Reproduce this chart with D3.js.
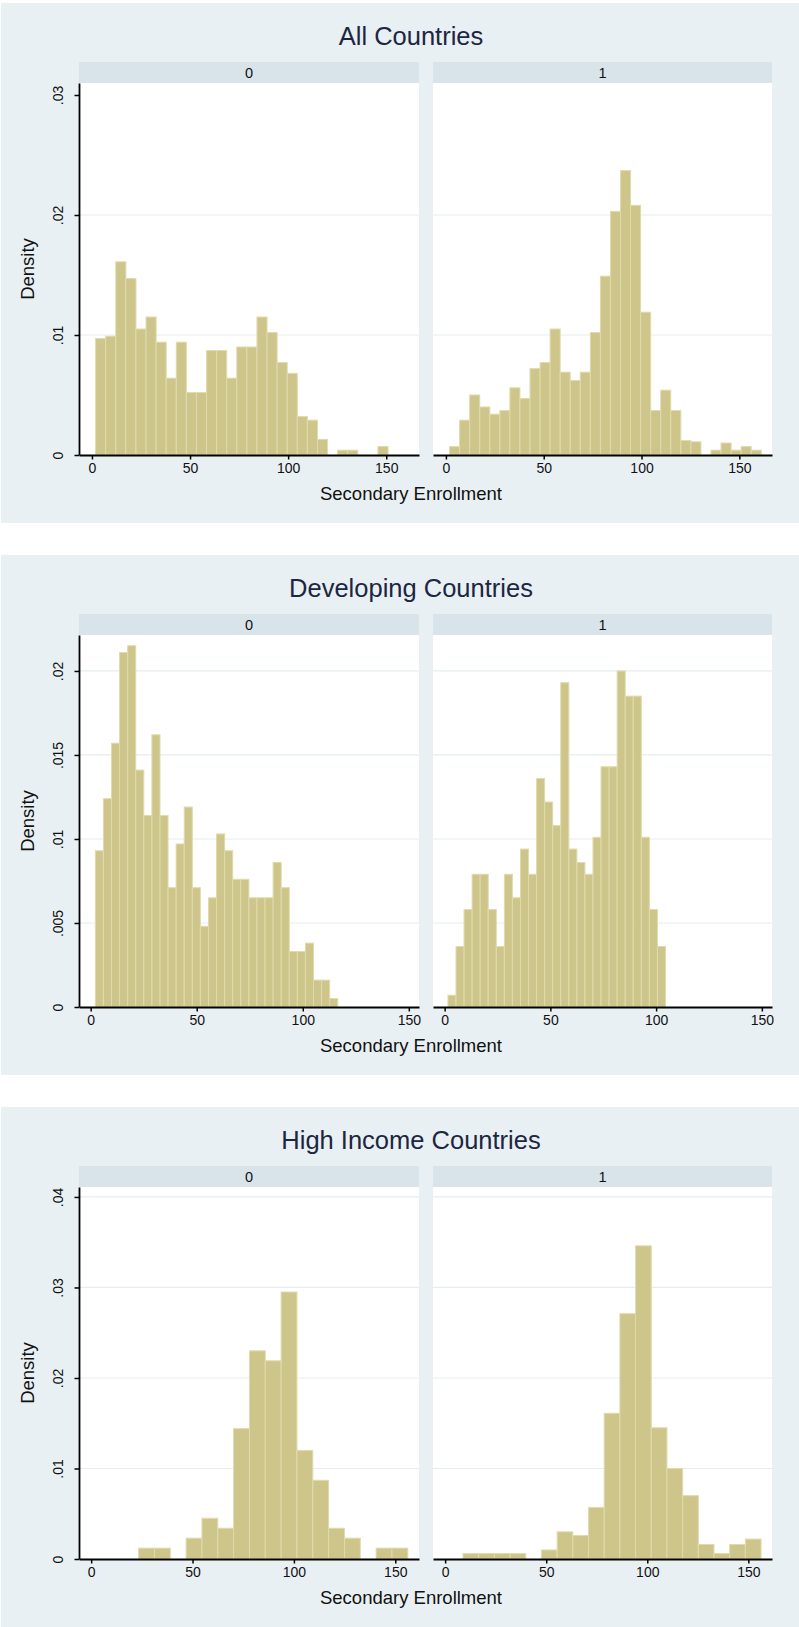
<!DOCTYPE html>
<html>
<head>
<meta charset="utf-8">
<script src="https://cdn.jsdelivr.net/npm/d3@7"></script>
<style>
  body { margin: 0; background: #ffffff; }
  svg { display: block; }
  text { font-family: "Liberation Sans", Arial, sans-serif; }
</style>
</head>
<body>
<svg id="chart" width="799" height="1627"></svg>
<script>
// ---- data -------------------------------------------------------------
const panelTitles = ["All Countries", "Developing Countries", "High Income Countries"];
const facetLabels = ["0", "1"];
const xTickValues = [0, 50, 100, 150];
const xAxisTitle = "Secondary Enrollment";
const yAxisTitle = "Density";

// All countries: histogram bins (lower edge of first bin, bin width) and densities
const allBinStart = [1.87, 1.87];
const allBinWidth = 5.14;
const allDensity0 = [0.0097, 0.0099, 0.0161, 0.0147, 0.0105, 0.0115, 0.0094, 0.0064, 0.0094, 0.0052,
                     0.0052, 0.0087, 0.0087, 0.0064, 0.0090, 0.0090, 0.0115, 0.0102, 0.0077, 0.0068,
                     0.0032, 0.0029, 0.0013, 0, 0.0004, 0.0004, 0, 0, 0.0007];
const allDensity1 = [0.0007, 0.0029, 0.0050, 0.0040, 0.0034, 0.0037, 0.0056, 0.0047, 0.0072, 0.0077,
                     0.0105, 0.0069, 0.0062, 0.0069, 0.0102, 0.0149, 0.0203, 0.0237, 0.0208, 0.0119,
                     0.0037, 0.0054, 0.0037, 0.0012, 0.0011, 0, 0.0004, 0.0010, 0.0004, 0.0007, 0.0004];
const allYTicks = [0, 0.01, 0.02, 0.03];
const allYLabels = ["0", ".01", ".02", ".03"];

// Developing countries
const devBinStart = [2.2, 1.57];
const devBinWidth = 3.81;
const devDensity0 = [0.0093, 0.0124, 0.0157, 0.0211, 0.0215, 0.0141, 0.0114, 0.0162, 0.0114, 0.0071,
                     0.0097, 0.0119, 0.0071, 0.0048, 0.0065, 0.0103, 0.0093, 0.0076, 0.0076, 0.0065,
                     0.0065, 0.0065, 0.0086, 0.0071, 0.0033, 0.0033, 0.0038, 0.0016, 0.0016, 0.0005];
const devDensity1 = [0.0007, 0.0036, 0.0058, 0.0079, 0.0079, 0.0058, 0.0036, 0.0079, 0.0065, 0.0094,
                     0.0079, 0.0136, 0.0122, 0.0108, 0.0193, 0.0094, 0.0086, 0.0079, 0.0101, 0.0143,
                     0.0143, 0.0200, 0.0185, 0.0185, 0.0101, 0.0058, 0.0036];
const devYTicks = [0, 0.005, 0.01, 0.015, 0.02];
const devYLabels = ["0", ".005", ".01", ".015", ".02"];

// High income countries
const hiBinStart = [23.4, 8.85];
const hiBinWidth = [7.81, 7.76];
const hiDensity0 = [0.0012, 0.0012, 0, 0.0023, 0.0045, 0.0034, 0.0144, 0.0230, 0.0219, 0.0295,
                    0.0120, 0.0087, 0.0034, 0.0023, 0, 0.0012, 0.0012];
const hiDensity1 = [0.0006, 0.0006, 0.0006, 0.0006, 0, 0.0010, 0.0030, 0.0026, 0.0057, 0.0161,
                    0.0271, 0.0346, 0.0145, 0.0100, 0.0070, 0.0016, 0.0006, 0.0016, 0.0022];
const hiYTicks = [0, 0.01, 0.02, 0.03, 0.04];
const hiYLabels = ["0", ".01", ".02", ".03", ".04"];

// ---- panel definitions ------------------------------------------------
const panels = [
  { title: panelTitles[0], top: 3,
    groups: [
      { start: allBinStart[0], width: allBinWidth, dens: allDensity0 },
      { start: allBinStart[1], width: allBinWidth, dens: allDensity1 }],
    xDomain: [-6.6, 166.7], yMax: 0.031,
    yTicks: allYTicks, yLabels: allYLabels, gridTicks: [0.01, 0.02] },
  { title: panelTitles[1], top: 555,
    groups: [
      { start: devBinStart[0], width: devBinWidth, dens: devDensity0 },
      { start: devBinStart[1], width: devBinWidth, dens: devDensity1 }],
    xDomain: [-5.5, 154.8], yMax: 0.02214,
    yTicks: devYTicks, yLabels: devYLabels, gridTicks: [0.005, 0.01, 0.015, 0.02] },
  { title: panelTitles[2], top: 1107,
    groups: [
      { start: hiBinStart[0], width: hiBinWidth[0], dens: hiDensity0 },
      { start: hiBinStart[1], width: hiBinWidth[1], dens: hiDensity1 }],
    xDomain: [-6.0, 161.7], yMax: 0.0411,
    yTicks: hiYTicks, yLabels: hiYLabels, gridTicks: [0.01, 0.02, 0.03, 0.04] }
];

// ---- layout & style -----------------------------------------------------
const W = 799;
const panelH = 520;
const facetX = [[79, 419], [433, 772]];
const stripTop = 59, plotTop = 80, plotBottom = 452;
const centerX = 411;

const colors = {
  outer: "#e9f0f3",
  strip: "#d9e4ea",
  plot: "#ffffff",
  grid: "#e5edf0",
  barFill: "#cdc58a",
  barEdge: "#e0dbac",
  axis: "#000000",
  title: "#1c2642",
  text: "#111111"
};

const svg = d3.select("#chart");

panels.forEach(p => {
  const g = svg.append("g").attr("transform", `translate(0,${p.top})`);

  g.append("rect")
    .attr("x", 1).attr("y", 0)
    .attr("width", W - 1).attr("height", panelH)
    .attr("fill", colors.outer);

  g.append("text")
    .attr("x", centerX).attr("y", 42)
    .attr("text-anchor", "middle")
    .attr("font-size", 25.5)
    .attr("fill", colors.title)
    .text(p.title);

  const y = d3.scaleLinear().domain([0, p.yMax]).range([plotBottom, plotTop]);

  p.groups.forEach((grp, gi) => {
    const [x0, x1] = facetX[gi];
    const x = d3.scaleLinear().domain(p.xDomain).range([x0, x1]);

    // facet strip
    g.append("rect")
      .attr("x", x0).attr("y", stripTop)
      .attr("width", x1 - x0).attr("height", plotTop - stripTop)
      .attr("fill", colors.strip);
    g.append("text")
      .attr("x", (x0 + x1) / 2).attr("y", 74.5)
      .attr("text-anchor", "middle")
      .attr("font-size", 14.5)
      .attr("fill", colors.text)
      .text(facetLabels[gi]);

    // plot region
    g.append("rect")
      .attr("x", x0).attr("y", plotTop)
      .attr("width", x1 - x0).attr("height", plotBottom - plotTop)
      .attr("fill", colors.plot);

    // horizontal grid lines
    g.append("g").selectAll("line")
      .data(p.gridTicks)
      .join("line")
      .attr("x1", x0).attr("x2", x1)
      .attr("y1", d => y(d)).attr("y2", d => y(d))
      .attr("stroke", colors.grid)
      .attr("stroke-width", 1.2);

    // histogram bars
    const bins = grp.dens.map((d, i) => ({
      lo: grp.start + i * grp.width,
      hi: grp.start + (i + 1) * grp.width,
      d
    })).filter(b => b.d > 0);

    g.append("g").selectAll("rect")
      .data(bins)
      .join("rect")
      .attr("x", b => x(b.lo))
      .attr("width", b => x(b.hi) - x(b.lo))
      .attr("y", b => y(b.d))
      .attr("height", b => y(0) - y(b.d))
      .attr("fill", colors.barFill)
      .attr("stroke", colors.barEdge)
      .attr("stroke-width", 1);

    // x axis
    const xAxis = d3.axisBottom(x)
      .tickValues(xTickValues)
      .tickSize(4.5)
      .tickSizeOuter(0)
      .tickPadding(4);
    const xa = g.append("g")
      .attr("transform", `translate(0,${plotBottom})`)
      .call(xAxis);
    xa.select(".domain").attr("stroke", colors.axis).attr("stroke-width", 2);
    xa.selectAll(".tick line").attr("stroke", colors.axis).attr("stroke-width", 1.5);
    xa.selectAll(".tick text")
      .attr("font-size", 14)
      .attr("fill", colors.text)
      .attr("font-family", "Liberation Sans, Arial, sans-serif");

    // y axis on the left facet only
    if (gi === 0) {
      const yAxis = d3.axisLeft(y)
        .tickValues(p.yTicks)
        .tickFormat((d, i) => p.yLabels[i])
        .tickSize(4.5)
        .tickSizeOuter(0);
      const ya = g.append("g")
        .attr("transform", `translate(${x0},0)`)
        .call(yAxis);
      ya.select(".domain").attr("stroke", colors.axis).attr("stroke-width", 1.8);
      ya.selectAll(".tick line").attr("stroke", colors.axis).attr("stroke-width", 1.5);
      ya.selectAll(".tick text")
        .attr("x", null).attr("dy", null)
        .attr("transform", "translate(-16,0) rotate(-90)")
        .attr("text-anchor", "middle")
        .attr("font-size", 14)
        .attr("fill", colors.text)
        .attr("font-family", "Liberation Sans, Arial, sans-serif");

      g.append("text")
        .attr("transform", `translate(34,${(plotTop + plotBottom) / 2}) rotate(-90)`)
        .attr("text-anchor", "middle")
        .attr("font-size", 18.5)
        .attr("fill", colors.text)
        .text(yAxisTitle);
    }
  });

  g.append("text")
    .attr("x", centerX).attr("y", 497)
    .attr("text-anchor", "middle")
    .attr("font-size", 18.5)
    .attr("fill", colors.text)
    .text(xAxisTitle);
});
</script>
</body>
</html>
